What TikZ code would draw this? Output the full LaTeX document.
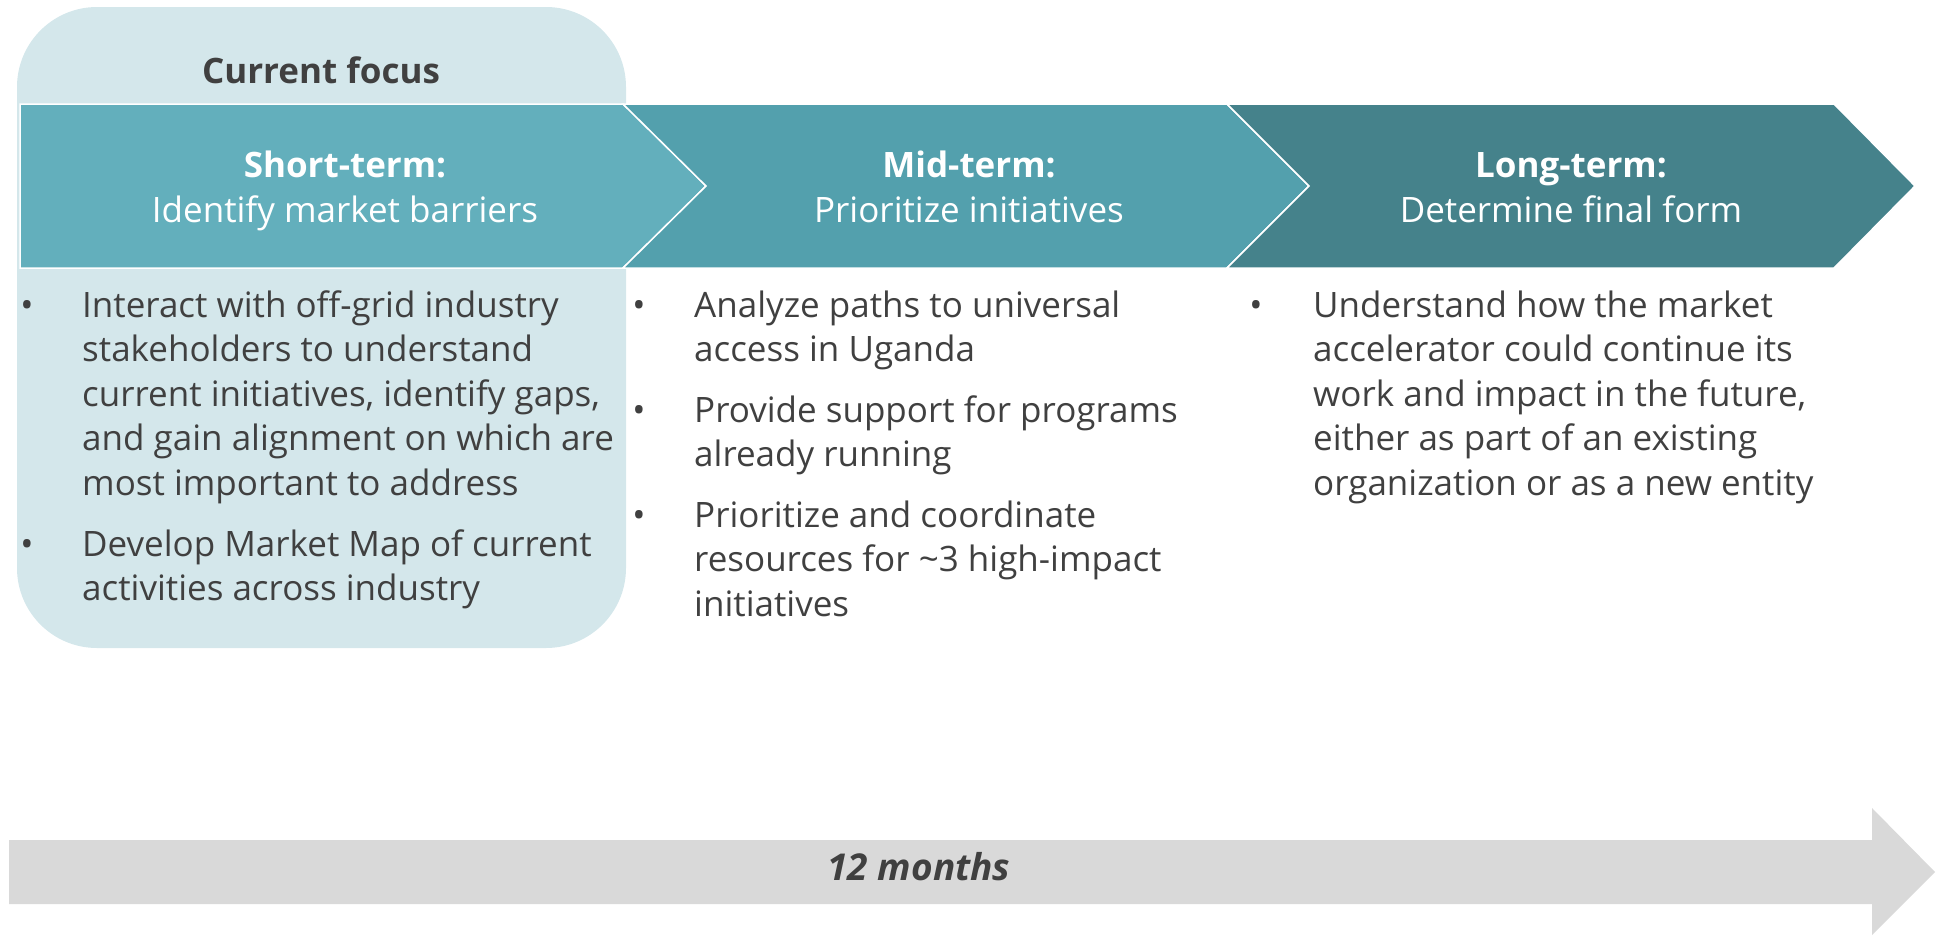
\documentclass[tikz,border=0pt]{standalone}
\usepackage{fontspec}
\setmainfont{Open Sans}
\usetikzlibrary{positioning}

\definecolor{focusbg}{HTML}{D4E7EB}
\definecolor{shortc}{HTML}{63AFBC}
\definecolor{midc}{HTML}{53A0AD}
\definecolor{longc}{HTML}{45828B}
\definecolor{txtgray}{HTML}{404040}
\definecolor{bargray}{HTML}{D9D9D9}

\newcommand{\bodyfont}{\fontsize{35}{44.6}\selectfont}

\begin{document}
\begin{tikzpicture}[x=1pt,y=-1pt,
	phase/.style={draw=white,line width=1.5pt},
	head/.style={anchor=base,text=white,align=center,font=\bodyfont},
	item/.style={anchor=base west,inner sep=0pt,align=left,text=txtgray,font=\bodyfont},
	dot/.style={anchor=base,inner sep=0pt,text=txtgray,font=\bodyfont}]

	\useasboundingbox (0,0) rectangle (1943,935);

	% current focus box
	\fill[focusbg, rounded corners=80pt] (17,7) rectangle (626,648);
	\node[text=txtgray, font=\bodyfont\bfseries] (focus) at (321,70) {Current focus};

	% the three phases
	\filldraw[phase, fill=shortc] (20,104) -- (623,104) -- (706,186) -- (623,268) -- (20,268) -- cycle;
	\filldraw[phase, fill=midc] (623,104) -- (1227,104) -- (1309,186) -- (1227,268) -- (623,268) -- (706,186) -- cycle;
	\filldraw[phase, fill=longc] (1227,104) -- (1834,104) -- (1915,186) -- (1834,268) -- (1227,268) -- (1309,186) -- cycle;

	% headings (placed at the base of their last line)
	\node[head] (short) at (345,222) {\textbf{Short-term:}\\Identify market barriers};
	\node[head] (mid) at (969,222) {\textbf{Mid-term:}\\Prioritize initiatives};
	\node[head] (long) at (1571,222) {\textbf{Long-term:}\\Determine final form};

	% short-term items (placed at the base of their last line)
	\node[item] (s1) at (82,495.4) {Interact with off-grid industry\\stakeholders to understand\\current initiatives, identify gaps,\\and gain alignment on which are\\most important to address};
	\node[dot] (s1dot) at (27,317) {•};
	\node[item] (s2) at (82,600.6) {Develop Market Map of current\\activities across industry};
	\node[dot] (s2dot) at (27,556) {•};

	% mid-term items
	\node[item] (m1) at (694,361.6) {Analyze paths to universal\\access in Uganda};
	\node[dot] (m1dot) at (639,317) {•};
	\node[item] (m2) at (694,466.6) {Provide support for programs\\already running};
	\node[dot] (m2dot) at (639,422) {•};
	\node[item] (m3) at (694,616.2) {Prioritize and coordinate\\resources for \textasciitilde 3 high-impact\\initiatives};
	\node[dot] (m3dot) at (639,527) {•};

	% long-term items
	\node[item] (l1) at (1313,495.4) {Understand how the market\\accelerator could continue its\\work and impact in the future,\\either as part of an existing\\organization or as a new entity};
	\node[dot] (l1dot) at (1256,317) {•};

	% time bar
	\fill[bargray] (9,840) -- (1872,840) -- (1872,808) -- (1935,872) -- (1872,935) -- (1872,904) -- (9,904) -- cycle;
	\node[text=txtgray, font=\fontsize{37}{44}\selectfont\bfseries\itshape] (months) at (919,867) {12 months};

\end{tikzpicture}
\end{document}
